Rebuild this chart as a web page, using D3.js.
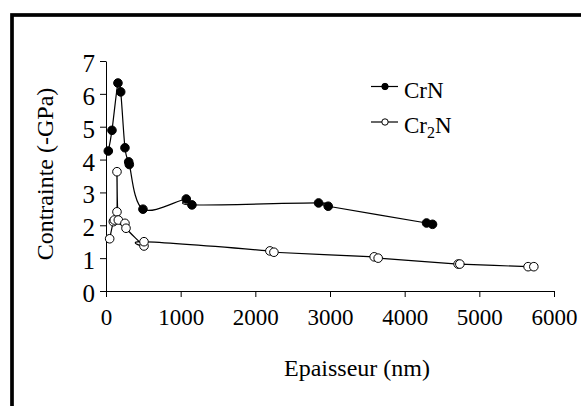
<!DOCTYPE html>
<html>
<head>
<meta charset="utf-8">
<script src="https://cdn.jsdelivr.net/npm/d3@7"></script>
<style>
  body { margin: 0; background: #fff; }
  svg, svg text { font-family: "Liberation Serif", "Times New Roman", serif; }
</style>
</head>
<body>
<div id="chart"></div>
<script>
//CrN measurements (thickness nm, stress -GPa)
const crnThickness = [31, 80, 160, 197, 254, 304, 312, 495, 1075, 1151, 2847, 2976, 4293, 4373];
const crnStress = [4.26, 4.89, 6.33, 6.06, 4.36, 3.93, 3.85, 2.49, 2.80, 2.62, 2.68, 2.58, 2.07, 2.03];

//Cr2N measurements
const cr2nThickness = [49, 98, 111, 147, 147, 165, 254, 268, 509, 509, 2195, 2249, 3592, 3645, 4716, 4739, 5653, 5730];
const cr2nStress = [1.59, 2.11, 2.16, 2.41, 3.63, 2.16, 2.06, 1.91, 1.37, 1.50, 1.22, 1.18, 1.04, 1.00, 0.82, 0.82, 0.74, 0.74];

//tick values
const xTicks = [0, 1000, 2000, 3000, 4000, 5000, 6000];
const yTicks = [0, 1, 2, 3, 4, 5, 6, 7];

//series
const series = [
  { name: "CrN", filled: true, x: crnThickness, y: crnStress },
  { name: "Cr2N", filled: false, x: cr2nThickness, y: cr2nStress },
];

//size
const width = 581;
const height = 406;

const svg = d3
  .select("#chart")
  .append("svg")
  .attr("width", width)
  .attr("height", height);

//outer frame (cut by the picture on the right and bottom)
svg
  .append("rect")
  .attr("x", 12)
  .attr("y", 15)
  .attr("width", 700)
  .attr("height", 500)
  .attr("fill", "#fff")
  .attr("stroke", "#000")
  .attr("stroke-width", 3.7);

//scales
const x = d3.scaleLinear().domain([0, 6000]).range([106, 554]);
const y = d3.scaleLinear().domain([0, 7]).range([291, 61]);

//x axis
svg
  .append("g")
  .attr("transform", `translate(0,${y(0)})`)
  .call(d3.axisBottom(x).tickValues(xTicks).tickSize(6).tickSizeOuter(0).tickFormat(d3.format("d")))
  .call((g) => {
    g.attr("font-family", null);
    g.selectAll("path, line").attr("stroke", "#000").attr("stroke-width", 1);
    g.selectAll("text")
      .attr("fill", "#000")
      .style("font-size", "23px")
      .attr("y", 34)
      .attr("dy", 0);
  });

//y axis
svg
  .append("g")
  .attr("transform", `translate(${x(0)},0)`)
  .call(d3.axisLeft(y).tickValues(yTicks).tickSize(6).tickSizeOuter(0).tickPadding(5).tickFormat(d3.format("d")))
  .call((g) => {
    g.attr("font-family", null);
    g.selectAll("path, line").attr("stroke", "#000").attr("stroke-width", 1);
    g.selectAll("text")
      .attr("fill", "#000")
      .style("font-size", "25px")
      .attr("dy", "0.42em");
  });

//axis titles
svg
  .append("text")
  .attr("x", 357)
  .attr("y", 376)
  .attr("text-anchor", "middle")
  .style("font-size", "24px")
  .text("Epaisseur (nm)");

svg
  .append("text")
  .attr("transform", "translate(53,174) rotate(-90)")
  .attr("text-anchor", "middle")
  .style("font-size", "24px")
  .text("Contrainte (-GPa)");

//smoothed lines (spreadsheet-style smoothing)
const line = d3
  .line()
  .x((d) => x(d[0]))
  .y((d) => y(d[1]))
  .curve(d3.curveCardinal.tension(0));

series.forEach((s) => {
  const pts = s.x.map((v, i) => [v, s.y[i]]);

  svg
    .append("path")
    .datum(pts)
    .attr("fill", "none")
    .attr("stroke", "#000")
    .attr("stroke-width", 1.2)
    .attr("d", line);

  svg
    .append("g")
    .selectAll("circle")
    .data(pts)
    .join("circle")
    .attr("cx", (d) => x(d[0]))
    .attr("cy", (d) => y(d[1]))
    .attr("r", 4.3)
    .attr("fill", s.filled ? "#000" : "#fff")
    .attr("stroke", "#000")
    .attr("stroke-width", 1);
});

//legend
const legend = svg
  .append("g")
  .selectAll("g")
  .data(series)
  .join("g")
  .attr("transform", (d, i) => `translate(371,${86.5 + i * 35.5})`);

legend
  .append("line")
  .attr("x1", 0)
  .attr("x2", 27)
  .attr("stroke", "#000")
  .attr("stroke-width", 1.2);

legend
  .append("circle")
  .attr("cx", 14)
  .attr("r", 3.2)
  .attr("fill", (d) => (d.filled ? "#000" : "#fff"))
  .attr("stroke", "#000")
  .attr("stroke-width", 1);

legend
  .append("text")
  .attr("x", 33)
  .attr("y", 11)
  .style("font-size", "23px")
  .each(function (d) {
    const t = d3.select(this);
    //subscript digits in the formula
    let sub = false;
    d.name.match(/[A-Za-z]+|\d+/g).forEach((p) => {
      if (/\d/.test(p)) {
        t.append("tspan").style("font-size", "16px").attr("dy", 5).text(p);
        sub = true;
      } else {
        t.append("tspan").attr("dy", sub ? -5 : 0).text(p);
        sub = false;
      }
    });
  });
</script>
</body>
</html>
